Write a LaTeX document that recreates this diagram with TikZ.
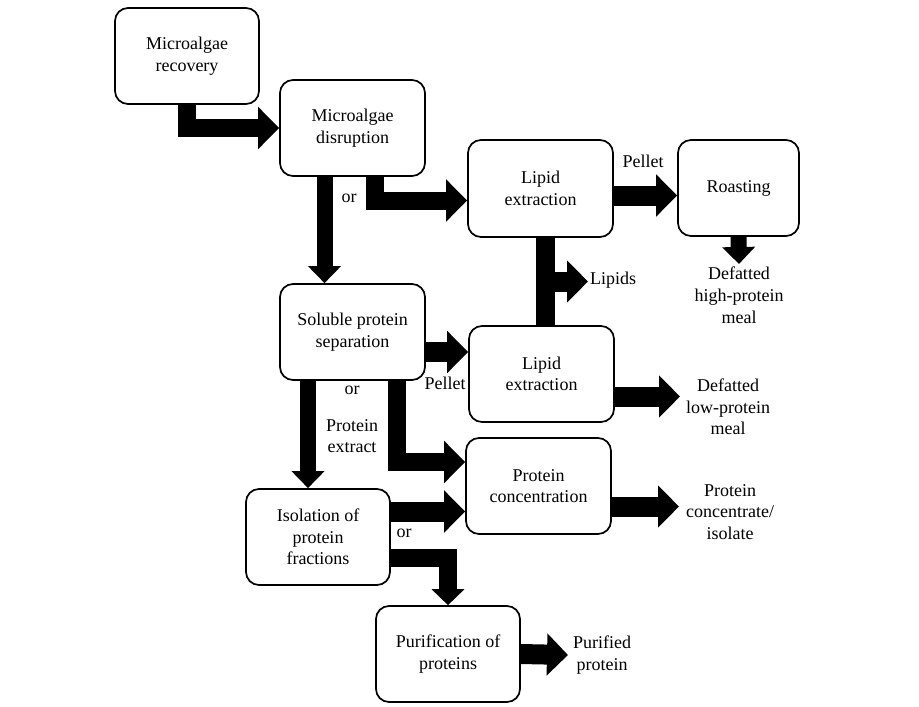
\documentclass[tikz,border=0pt]{standalone}
\usepackage{fontspec}
\setmainfont{Liberation Serif}
\usetikzlibrary{arrows.meta,calc}
\begin{document}
\begin{tikzpicture}[x=1pt,y=-1pt,
  box/.style={draw, line width=1.7pt, rounded corners=13pt, align=center, inner sep=0pt,
    minimum width=145pt, minimum height=96pt, font=\fontsize{18}{21.6}\selectfont},
  lbl/.style={align=center, inner sep=3pt, font=\fontsize{18}{21.6}\selectfont},
  hflow/.style={line width=20pt, -{Triangle[length=21pt,width=41pt]}},
  vflow/.style={line width=16pt, -{Triangle[length=17pt,width=32pt]}},
  ehflow/.style={line width=18pt, line join=miter, -{Triangle[length=21pt,width=41pt]}},
  evflow/.style={line width=18pt, line join=miter, -{Triangle[length=16pt,width=32pt]}},
  bar/.style={line width=19pt}]
\useasboundingbox (0,0) rectangle (919,707);

% process boxes
\node[box, minimum width=144pt] (rec) at (187,56) {Microalgae\\recovery};
\node[box] (dis) at (352.5,128) {Microalgae\\disruption};
\node[box, minimum height=97pt] (lip1) at (540.5,188.5) {Lipid\\extraction};
\node[box, minimum width=121pt] (roast) at (738.5,188) {Roasting};
\node[box] (sol) at (352.5,332) {Soluble protein\\separation};
\node[box] (lip2) at (541.5,374) {Lipid\\extraction};
\node[box] (conc) at (538.5,486) {Protein\\concentration};
\node[box, minimum width=144pt] (iso) at (318,537) {Isolation of\\protein\\fractions};
\node[box, minimum width=144pt] (pur) at (448,654) {Purification of\\proteins};

% product labels
\node[lbl, anchor=north] (dhigh) at (739,264) {Defatted\\high-protein\\meal};
\node[lbl, anchor=west, inner xsep=6pt] (dlow) at (680,407) {Defatted\\low-protein\\meal};
\node[lbl, anchor=west, inner xsep=7pt] (pci) at (679,512) {Protein\\concentrate/\\isolate};
\node[lbl, anchor=west, inner xsep=5pt] (pp) at (568,655) {Purified\\protein};
\node[lbl, anchor=west, inner sep=2pt] (lipids) at (588,280) {Lipids};

% small labels
\node[lbl] (pel1) at (643,161) {Pellet};
\node[lbl] (pel2) at (445,383) {Pellet};
\node[lbl] (or1) at (349,198) {or};
\node[lbl] (or2) at (352,390) {or};
\node[lbl] (pext) at (352,436) {Protein\\extract};
\node[lbl] (or3) at (404,533) {or};

% connectors
\draw[ehflow] (rec.south) |- (dis.west);
\draw[ehflow] ($(dis.south)+(22.5,0)$) |- ($(lip1.west)+(0,12)$);
\coordinate (c3) at ($(dis.south)+(-28,0)$);
\draw[vflow] (c3) -- (c3 |- sol.north);
\coordinate (c4) at ($(lip1.east)+(0,7)$);
\draw[hflow] (c4) -- (c4 -| roast.west);
\draw[vflow] (roast.south) -- (dhigh.north);
\draw[bar] ($(lip2.north)+(4,0)$) -- ($(lip1.south)+(5,0)$);
\coordinate (c6) at ($($(lip1.south)!0.5!(lip2.north)$)+(4.5,0)$);
\draw[hflow] (c6) -- (c6 -| lipids.west);
\coordinate (c7) at ($(sol.east)+(0,20)$);
\draw[hflow] (c7) -- (c7 -| lip2.west);
\coordinate (c8) at ($(lip2.east)+(0,22.5)$);
\draw[hflow] (c8) -- (c8 -| dlow.west);
\coordinate (c9) at ($(sol.south)+(-44.5,0)$);
\draw[vflow] (c9) -- (c9 |- iso.north);
\draw[ehflow] ($(sol.south)+(44.5,0)$) |- ($(conc.west)+(0,-24)$);
\coordinate (c11) at ($(iso.east)+(0,-25.5)$);
\draw[hflow] (c11) -- (c11 -| conc.west);
\draw[evflow] ($(iso.east)+(0,20.5)$) -| (pur.north);
\draw[hflow] (pur.east) -- (pp.west);
\coordinate (c14) at ($(conc.east)+(0,20.5)$);
\draw[hflow] (c14) -- (c14 -| pci.west);
\end{tikzpicture}
\end{document}
